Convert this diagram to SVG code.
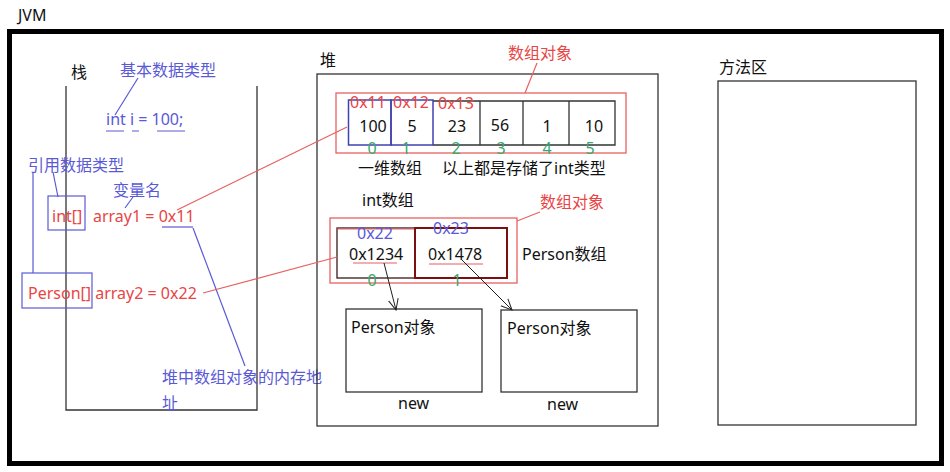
<svg xmlns="http://www.w3.org/2000/svg" width="950" height="472" viewBox="0 0 950 472">
<style>
text{font-family:"Noto Sans","Noto Sans CJK SC",sans-serif;font-size:16px;dominant-baseline:central}
.k{fill:#111}
.b{fill:#5a5ad6}
.r{fill:#e84545}
.g{fill:#3aa76d}
.box{fill:none;stroke:#333;stroke-width:1.3}
.rb{fill:none;stroke:#e86060;stroke-width:1.3}
.bl{fill:none;stroke:#5a5ad6;stroke-width:1.2}
.rl{fill:none;stroke:#e86060;stroke-width:1.2}
.kl{fill:none;stroke:#222;stroke-width:1}
</style>
<defs>
<marker id="ah" viewBox="0 0 12 12" refX="11" refY="6" markerWidth="12" markerHeight="12" markerUnits="userSpaceOnUse" orient="auto">
<path d="M0,1 L11,6 L0,11" fill="none" stroke="#222" stroke-width="1"/>
</marker>
</defs>
<rect width="950" height="472" fill="#fff"/>
<text x="18" y="15" class="k" font-size="14">JVM</text>
<rect x="9.5" y="31.5" width="932" height="432" fill="none" stroke="#000" stroke-width="5"/>

<g id="stack">
<text x="71" y="72" class="k">栈</text>
<path d="M66,86 V410 H257 V86" class="box"/>
<text x="120" y="70" class="b">基本数据类型</text>
<text x="106" y="119" class="b" font-size="16.3">int i = 100;</text>
<path d="M106,131 H124 M132,131 H139 M157,131 H185" class="bl"/>
<text x="28" y="165" class="b">引用数据类型</text>
<text x="113" y="190" class="b">变量名</text>
<rect x="48" y="196" width="37" height="34" class="bl"/>
<text x="52" y="216" class="r" font-size="16.3">int[]</text>
<text x="93" y="216" class="r" font-size="16.5">array1 = 0x11</text>
<path d="M162,227 H193" class="bl"/>
<rect x="22" y="273" width="70" height="35" class="bl"/>
<text x="28" y="293" class="r" font-size="16.2">Person[] array2 = 0x22</text>
<text x="162" y="377" class="b" font-size="15.6">堆中数组对象的内存地</text>
<text x="162" y="403" class="b" font-size="15.6">址</text>
</g>

<g id="heap">
<text x="320" y="60" class="k">堆</text>
<rect x="317" y="74" width="341" height="352" class="box"/>
<rect x="336" y="93" width="290" height="60" class="rb"/>
<text x="508" y="53" class="r">数组对象</text>
<path d="M433,101 H615 V145 H433 M480,101 V145 M523,101 V145 M569,101 V145" class="box"/>
<rect x="348.5" y="100" width="42.5" height="45" fill="none" stroke="#4040b0" stroke-width="1.5"/>
<rect x="391" y="100" width="42" height="45" fill="none" stroke="#4040b0" stroke-width="1.5"/>
<g class="k" font-size="16" text-anchor="middle">
<text x="373" y="126">100</text><text x="412" y="126">5</text><text x="457" y="126">23</text>
<text x="500" y="125">56</text><text x="547" y="126">1</text><text x="594" y="126">10</text>
</g>
<text x="350" y="102" class="r" font-size="15">0x11</text>
<text x="393" y="102" class="r" font-size="15">0x12</text>
<text x="438" y="103" class="r" font-size="15">0x13</text>
<g class="g" font-size="13" text-anchor="middle">
<text x="372" y="148">0</text><text x="406" y="148">1</text><text x="456" y="148">2</text>
<text x="501" y="148">3</text><text x="547" y="148">4</text><text x="590" y="148">5</text>
</g>
<text x="358" y="168" class="k">一维数组</text>
<text x="442" y="168" class="k">以上都是存储了int类型</text>
<text x="362" y="200" class="k">int数组</text>

<rect x="330" y="218" width="187" height="65" class="rb"/>
<text x="540" y="202" class="r">数组对象</text>
<rect x="337" y="228" width="78" height="50" fill="none" stroke="#3a1a1a" stroke-width="1.3"/>
<path d="M337,229 H415" class="rl"/>
<rect x="415" y="228" width="92" height="50" fill="none" stroke="#7a1010" stroke-width="2"/>
<text x="357" y="233" class="b">0x22</text>
<text x="433" y="228" class="b">0x23</text>
<text x="349" y="254" class="k">0x1234</text>
<text x="428" y="254" class="k">0x1478</text>
<path d="M353,263 H397 M429,264 H483" class="rl"/>
<text x="372" y="280" class="g" font-size="14" text-anchor="middle">0</text>
<text x="457" y="280" class="g" font-size="14" text-anchor="middle">1</text>
<text x="522" y="254" class="k">Person数组</text>
</g>

<g id="person1">
<rect x="346" y="309" width="136" height="83" class="box"/>
<text x="351" y="327" class="k">Person对象</text>
<text x="398" y="403" class="k">new</text>
</g>
<g id="person2">
<rect x="501" y="310" width="136" height="82" class="box"/>
<text x="507" y="328" class="k">Person对象</text>
<text x="547" y="404" class="k">new</text>
</g>

<g id="method">
<text x="719" y="67" class="k">方法区</text>
<rect x="718" y="81" width="198" height="344" class="box"/>
</g>

<g id="connectors">
<path d="M138,78 L115,115" class="bl"/>
<path d="M53,172 L58,197" class="bl"/>
<path d="M33,172 V273" class="bl"/>
<path d="M133,197 L125,208" class="bl"/>
<path d="M193,228 L245,366" class="bl"/>
<path d="M177,210 L347,127" class="rl"/>
<path d="M203,293 L337,257" class="rl"/>
<path d="M537,63 L525,93" class="rl"/>
<path d="M540,212 L517,221" class="rl"/>
<path d="M384,263 L396,310" class="kl" marker-end="url(#ah)"/>
<path d="M462,260 L512,310" class="kl" marker-end="url(#ah)"/>
</g>
</svg>
